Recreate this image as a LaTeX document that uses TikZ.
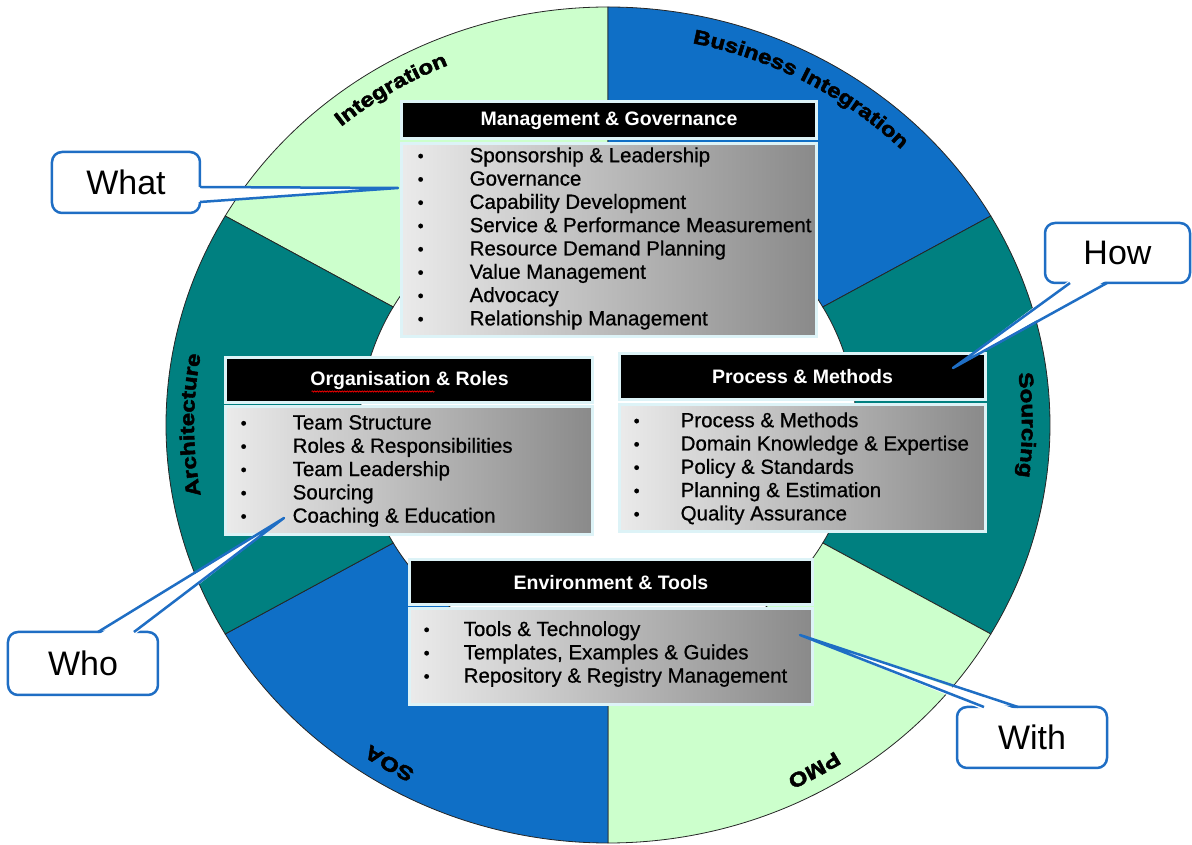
\documentclass[tikz,border=0pt]{standalone}
\usepackage{fontspec}
\setmainfont{Liberation Sans}
\newfontfamily\ringfont[FakeStretch=1.2,FakeBold=2.5]{Liberation Sans}
\newfontfamily\itemfont[FakeBold=0.8]{Liberation Sans}
\usepackage{tikz}
\usetikzlibrary{positioning,decorations.text,decorations.pathmorphing}

\definecolor{ringgreen}{HTML}{CCFFCC}
\definecolor{ringblue}{HTML}{0F6FC6}
\definecolor{ringteal}{HTML}{008080}
\definecolor{boxedge}{HTML}{DDF3F7}
\definecolor{bubbleblue}{HTML}{1F6EC4}

\newlength{\bulletsep}
\newcommand{\itm}[1]{\makebox[\bulletsep][l]{\raisebox{0.5pt}{\fontsize{17}{17}\selectfont\textbullet}}#1}

\tikzset{
  head/.style={fill=black, draw=boxedge, line width=3pt, text=white,
    font=\bfseries\fontsize{19.5}{19.5}\selectfont, inner sep=0pt},
  body/.style={draw=boxedge, line width=3pt, left color=black!8, right color=black!46, inner sep=0pt},
  itemlist/.style={anchor=west, align=left, inner sep=0pt,
    font=\itemfont\fontsize{20.5}{23.3}\selectfont, execute at begin node={\global\bulletsep=#1\relax}},
  bubble/.style={draw=bubbleblue, line width=2.5pt, fill=white, rounded corners=10pt,
    minimum width=150pt, minimum height=61pt, outer sep=0pt, font=\fontsize{34}{34}\selectfont},
  pointer/.style={draw=bubbleblue, line width=2.5pt, line join=round},
  sector/.style={draw=black!85, line width=0.8pt},
  ringlabel/.style={decorate, decoration={text along path, text align=center,
    text={|\ringfont\bfseries\fontsize{20}{20}\selectfont|#1}}}
}

\begin{document}
\begin{tikzpicture}[x=1pt,y=1pt]
  \useasboundingbox (-608,-420) rectangle (584,425);

  % ring of six sectors
  \filldraw[sector, fill=ringgreen] (90:248 and 236) -- (90:442 and 418) arc[start angle=90, end angle=150, x radius=442, y radius=418] -- (150:248 and 236) arc[start angle=150, end angle=90, x radius=248, y radius=236] -- cycle;
  \filldraw[sector, fill=ringblue] (30:248 and 236) -- (30:442 and 418) arc[start angle=30, end angle=90, x radius=442, y radius=418] -- (90:248 and 236) arc[start angle=90, end angle=30, x radius=248, y radius=236] -- cycle;
  \filldraw[sector, fill=ringteal] (-30:248 and 236) -- (-30:442 and 418) arc[start angle=-30, end angle=30, x radius=442, y radius=418] -- (30:248 and 236) arc[start angle=30, end angle=-30, x radius=248, y radius=236] -- cycle;
  \filldraw[sector, fill=ringgreen] (-90:248 and 236) -- (-90:442 and 418) arc[start angle=-90, end angle=-30, x radius=442, y radius=418] -- (-30:248 and 236) arc[start angle=-30, end angle=-90, x radius=248, y radius=236] -- cycle;
  \filldraw[sector, fill=ringblue] (-150:248 and 236) -- (-150:442 and 418) arc[start angle=-150, end angle=-90, x radius=442, y radius=418] -- (-90:248 and 236) arc[start angle=-90, end angle=-150, x radius=248, y radius=236] -- cycle;
  \filldraw[sector, fill=ringteal] (150:248 and 236) -- (150:442 and 418) arc[start angle=150, end angle=210, x radius=442, y radius=418] -- (210:248 and 236) arc[start angle=210, end angle=150, x radius=248, y radius=236] -- cycle;

  % ring labels
  \path[ringlabel=Integration] (162:414 and 390) arc[start angle=162, end angle=82, x radius=414, y radius=390];
  \path[ringlabel=Business Integration] (106:414 and 390) arc[start angle=106, end angle=16, x radius=414, y radius=390];
  \path[ringlabel=Sourcing] (40:414 and 390) arc[start angle=40, end angle=-40, x radius=414, y radius=390];
  \path[ringlabel=PMO] (-20:414 and 390) arc[start angle=-20, end angle=-100, x radius=414, y radius=390];
  \path[ringlabel=SOA] (-82:414 and 390) arc[start angle=-82, end angle=-162, x radius=414, y radius=390];
  \path[ringlabel=Architecture] (220:414 and 390) arc[start angle=220, end angle=140, x radius=414, y radius=390];

  % boxes
  \node[head, minimum width=414pt, minimum height=37pt] (mghead) at (1,304.5) {Management \& Governance};
  \node[body, minimum width=414pt, minimum height=193pt, below=2pt of mghead] (mgbody) {};
  \node[itemlist=52pt, right=17pt of mgbody.west, yshift=2pt] (mglist) {\itm{Sponsorship \& Leadership}\\ \itm{Governance}\\ \itm{Capability Development}\\ \itm{Service \& Performance Measurement}\\ \itm{Resource Demand Planning}\\ \itm{Value Management}\\ \itm{Advocacy}\\ \itm{Relationship Management}};

  \node[head, minimum width=367pt, minimum height=45pt] (orghead) at (-198.5,44.5) {Organisation \& Roles};
  \node[body, minimum width=367pt, minimum height=128pt, below=1pt of orghead] (orgbody) {};
  \node[itemlist=52pt, right=16pt of orgbody.west] (orglist) {\itm{Team Structure}\\ \itm{Roles \& Responsibilities}\\ \itm{Team Leadership}\\ \itm{Sourcing}\\ \itm{Coaching \& Education}};
  \draw[red, line width=0.6pt, decorate, decoration={snake, amplitude=0.7pt, segment length=2.5pt}] ([shift={(-98pt,-11pt)}]orghead.center) -- ([shift={(25pt,-11pt)}]orghead.center);

  \node[head, minimum width=365pt, minimum height=46pt] (prhead) at (194.5,48) {Process \& Methods};
  \node[body, minimum width=365pt, minimum height=127pt, below=2pt of prhead] (prbody) {};
  \node[itemlist=47pt, right=15pt of prbody.west] (prlist) {\itm{Process \& Methods}\\ \itm{Domain Knowledge \& Expertise}\\ \itm{Policy \& Standards}\\ \itm{Planning \& Estimation}\\ \itm{Quality Assurance}};

  \node[head, minimum width=402pt, minimum height=45pt] (envhead) at (3,-157.5) {Environment \& Tools};
  \node[body, minimum width=402pt, minimum height=96pt, below=1pt of envhead] (envbody) {};
  \node[itemlist=40pt, right=15pt of envbody.west, yshift=3pt] (envlist) {\itm{Tools \& Technology}\\ \itm{Templates, Examples \& Guides}\\ \itm{Repository \& Registry Management}};

  % callouts
  \coordinate (whattip) at (-210,237);
  \coordinate (howtip) at (345,57);
  \coordinate (whotip) at (-324,-93);
  \coordinate (withtip) at (192,-210);

  \node[bubble, minimum width=148pt] (what) at (-482,242.5) {What};
  \fill[white] ([xshift=-3pt,yshift=-4.5pt]what.east) -- (whattip) -- ([xshift=-3pt,yshift=-19.5pt]what.east) -- cycle;
  \draw[pointer] ([yshift=-4.5pt]what.east) -- (whattip) -- ([yshift=-19.5pt]what.east);

  \node[bubble, minimum width=145pt, minimum height=60pt] (how) at (509.5,172) {How};
  \fill[white] ([xshift=-47.5pt,yshift=3pt]how.south) -- (howtip) -- ([xshift=-10.5pt,yshift=3pt]how.south) -- cycle;
  \draw[pointer] ([xshift=-47.5pt]how.south) -- (howtip) -- ([xshift=-10.5pt]how.south);

  \node[bubble, minimum height=63pt] (who) at (-525,-238.5) {Who};
  \fill[white] ([xshift=15pt,yshift=-3pt]who.north) -- (whotip) -- ([xshift=51pt,yshift=-3pt]who.north) -- cycle;
  \draw[pointer] ([xshift=15pt]who.north) -- (whotip) -- ([xshift=51pt]who.north);

  \node[bubble] (with) at (424,-312.5) {With};
  \fill[white] ([xshift=-48pt,yshift=-3pt]with.north) -- (withtip) -- ([xshift=-14pt,yshift=-3pt]with.north) -- cycle;
  \draw[pointer] ([xshift=-48pt]with.north) -- (withtip) -- ([xshift=-14pt]with.north);

\end{tikzpicture}
\end{document}
